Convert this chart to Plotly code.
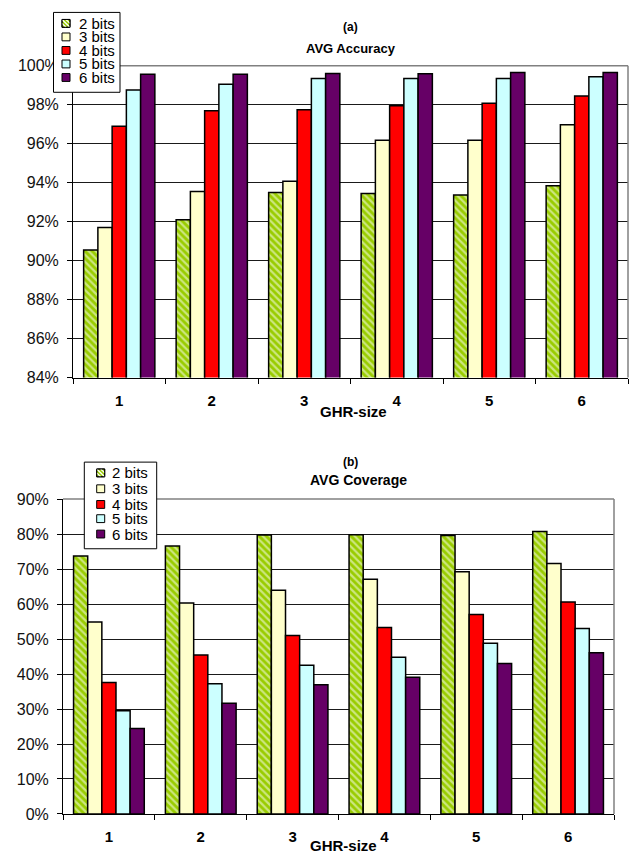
import plotly.graph_objects as go

# GHR sizes on the x axis
ghr_size = ["1", "2", "3", "4", "5", "6"]
series_names = ["2 bits", "3 bits", "4 bits", "5 bits", "6 bits"]

# (a) average accuracy, percent
acc_2bits = [90.55, 92.10, 93.50, 93.45, 93.37, 93.85]
acc_3bits = [91.70, 93.55, 94.08, 96.18, 96.18, 96.98]
acc_4bits = [96.90, 97.70, 97.75, 97.95, 98.08, 98.45]
acc_5bits = [98.76, 99.05, 99.35, 99.35, 99.35, 99.44]
acc_6bits = [99.57, 99.57, 99.60, 99.59, 99.66, 99.66]

# (b) average coverage, percent
cov_2bits = [73.75, 76.56, 79.70, 79.80, 79.60, 80.70]
cov_3bits = [54.90, 60.30, 63.95, 67.10, 69.20, 71.60]
cov_4bits = [37.60, 45.40, 51.00, 53.30, 57.00, 60.60]
cov_5bits = [29.50, 37.25, 42.50, 44.80, 48.80, 53.00]
cov_6bits = [24.40, 31.65, 36.90, 39.10, 43.00, 46.10]

W, H = 637, 857
FONT = "Arial, Liberation Sans, sans-serif"
GREEN = "#99CC00"
fills = [GREEN, "#FFFFCC", "#FF0000", "#CCFFFF", "#660066"]


def px(x):
    return x / W


def py(y):
    return 1 - y / H


fig = go.Figure()

acc = [acc_2bits, acc_3bits, acc_4bits, acc_5bits, acc_6bits]
cov = [cov_2bits, cov_3bits, cov_4bits, cov_5bits, cov_6bits]

for ax, data in (("", acc), ("2", cov)):
    for i, (name, vals) in enumerate(zip(series_names, data)):
        marker = dict(color=fills[i], line=dict(color="black", width=1.5))
        if i == 0:
            marker["pattern"] = dict(shape="\\", fgcolor="white", size=5,
                                     solidity=0.45)
        fig.add_trace(go.Bar(x=ghr_size, y=vals, name=name, marker=marker,
                             xaxis="x" + ax, yaxis="y" + ax,
                             showlegend=False))

# plot areas in pixels: (left, right, top, bottom)
top_box = (73, 628, 59, 377)
bot_box = (63, 614, 501, 822.3)

xcommon = dict(type="category", tickson="boundaries", ticks="outside",
               ticklen=5, tickcolor="black", showline=True, linecolor="black",
               linewidth=1, showgrid=False, ticklabelstandoff=9,
               tickfont=dict(family=FONT, size=15, color="black",
                             weight="bold"))
ycommon = dict(ticks="outside", ticklen=5, tickcolor="black", showline=True,
               linecolor="black", linewidth=1, showgrid=True,
               gridcolor="#1a1a1a", gridwidth=1, ticksuffix="%",
               ticklabelstandoff=5, zeroline=False,
               tickfont=dict(family=FONT, size=16, color="#111"))

fig.update_layout(
    width=W, height=H, margin=dict(l=0, r=0, t=0, b=0),
    paper_bgcolor="white", plot_bgcolor="white",
    barmode="group", bargap=0.23, bargroupgap=0,
    showlegend=False,
    xaxis=dict(domain=[px(top_box[0]), px(top_box[1])], anchor="y",
               **xcommon),
    yaxis=dict(domain=[py(top_box[3]), py(top_box[2])], anchor="x",
               range=[84, 100], dtick=2, **ycommon),
    xaxis2=dict(domain=[px(bot_box[0]), px(bot_box[1])], anchor="y2",
                **xcommon),
    yaxis2=dict(domain=[py(bot_box[3]), py(bot_box[2])], anchor="x2",
                range=[0, 90], dtick=10, **ycommon),
)

shapes = []
annotations = []

# grey frame on the top and right of each plot area
for (l, r, t, b) in (top_box, bot_box):
    shapes.append(dict(type="line", xref="paper", yref="paper",
                       x0=px(l), x1=px(r), y0=py(t), y1=py(t),
                       line=dict(color="#808080", width=1.5), layer="above"))
    shapes.append(dict(type="line", xref="paper", yref="paper",
                       x0=px(r), x1=px(r), y0=py(t), y1=py(b),
                       line=dict(color="#808080", width=1.5), layer="above"))


def text(x, y, s, size, bold=False, xanchor="center"):
    annotations.append(dict(
        x=px(x), y=py(y), xref="paper", yref="paper", text=s,
        showarrow=False, xanchor=xanchor, yanchor="middle",
        font=dict(family=FONT, size=size, color="black",
                  weight="bold" if bold else "normal")))


def legend(box, sw_x, text_x, rows, sw=8):
    l, t, r, b = box
    shapes.append(dict(type="rect", xref="paper", yref="paper",
                       x0=px(l), x1=px(r), y0=py(b), y1=py(t),
                       fillcolor="white", line=dict(color="black", width=1),
                       layer="above"))
    for i, (name, yc) in enumerate(zip(series_names, rows)):
        x0, y0 = sw_x, yc - sw / 2
        shapes.append(dict(type="rect", xref="paper", yref="paper",
                           x0=px(x0), x1=px(x0 + sw), y0=py(y0 + sw),
                           y1=py(y0), fillcolor=fills[i],
                           line=dict(color="black", width=1), layer="above"))
        if i == 0:
            # white diagonal stripes for the hatched swatch
            for c in (-4, 0, 4):
                if c >= 0:
                    a, bb = (c, 0), (sw, sw - c)
                else:
                    a, bb = (0, -c), (sw + c, sw)
                shapes.append(dict(
                    type="line", xref="paper", yref="paper",
                    x0=px(x0 + a[0]), y0=py(y0 + a[1]),
                    x1=px(x0 + bb[0]), y1=py(y0 + bb[1]),
                    line=dict(color="white", width=1.3), layer="above"))
            shapes.append(dict(type="rect", xref="paper", yref="paper",
                               x0=px(x0), x1=px(x0 + sw), y0=py(y0 + sw),
                               y1=py(y0), line=dict(color="black", width=1),
                               layer="above"))
        text(text_x, yc, name, 15, xanchor="left")


legend((53.5, 4.5, 120, 86), 62, 76.5, [15.7, 29.5, 43.3, 57.1, 70.9])
legend((84.3, 463.3, 156.7, 551.7), 96.7, 110,
       [474.3, 490.5, 506.5, 521, 536.7])

# titles
text(350, 19, "(a)", 12, bold=True)
text(351, 41, "AVG Accuracy", 13, bold=True)
text(350, 463, "(b)", 12, bold=True)
text(358, 481.5, "AVG Coverage", 14, bold=True)

# x axis titles
text(353, 411.5, "GHR-size", 15, bold=True)
text(343, 854, "GHR-size", 15, bold=True)

fig.update_layout(shapes=shapes, annotations=annotations)
fig.write_html("out.html")
